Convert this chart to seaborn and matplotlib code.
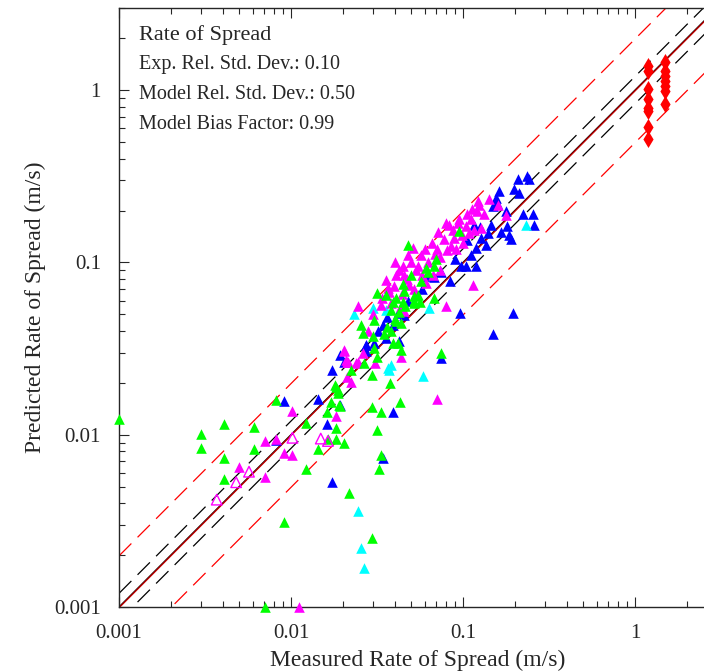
import numpy as np
import pandas as pd
import seaborn as sns
import matplotlib
matplotlib.use('Agg')
import matplotlib.pyplot as plt
from matplotlib.ticker import LogLocator, NullFormatter

# ---------------------- data (measured, predicted) ---------------------- #
green_x = [0.0010, 0.0030, 0.0030, 0.0041, 0.0041, 0.0041, 0.0061, 0.0061, 0.0082, 0.0122,
           0.0183, 0.0183, 0.0203, 0.0164, 0.0143, 0.0122, 0.0091, 0.0071, 0.0217, 0.0183,
           0.0188, 0.0171, 0.0190, 0.0163, 0.0193, 0.0180, 0.0188, 0.0296, 0.0223, 0.0266,
           0.0316, 0.0295, 0.0376, 0.0295, 0.0333, 0.0428, 0.0316, 0.0333, 0.0325, 0.0743,
           0.0390, 0.0420, 0.0477, 0.0950, 0.0316, 0.0357, 0.0407, 0.0456, 0.0381, 0.0426,
           0.0407, 0.0437, 0.0255, 0.0305, 0.0261, 0.0299, 0.0348, 0.0381, 0.0682, 0.0520,
           0.0520, 0.0609, 0.0682, 0.0519, 0.0305, 0.0437, 0.0390, 0.0450, 0.0560,
           0.0450, 0.0500, 0.0570, 0.0630, 0.0550, 0.0400, 0.0360, 0.0460, 0.0700]
green_y = [0.0124, 0.0101, 0.0084, 0.0116, 0.0073, 0.0055, 0.0111, 0.0083, 0.0160, 0.0117,
           0.0110, 0.0095, 0.0090, 0.0094, 0.0083, 0.0063, 0.0031, 0.0010, 0.0046, 0.0190,
           0.0175, 0.0154, 0.0148, 0.0136, 0.0146, 0.0195, 0.0183, 0.0025, 0.0239, 0.0262,
           0.0284, 0.0223, 0.0200, 0.0144, 0.0136, 0.0155, 0.0107, 0.0076, 0.0063, 0.0300,
           0.0340, 0.0340, 0.1256, 0.1520, 0.0667, 0.0650, 0.0624, 0.0682, 0.0533, 0.0513,
           0.0455, 0.0447, 0.0436, 0.0466, 0.0390, 0.0373, 0.0382, 0.0399, 0.0620, 0.0636,
           0.0595, 0.0930, 0.0950, 0.0585, 0.0319, 0.0312, 0.0590, 0.0590, 0.0590,
           0.0750, 0.0850, 0.0780, 0.0880, 0.0650, 0.0470, 0.0420, 0.0560, 0.1050]

blue_x = [0.0082, 0.0091, 0.0143, 0.0163, 0.0173, 0.0173, 0.0193, 0.0203, 0.0273, 0.0390,
          0.0343, 0.0743, 0.0193, 0.236, 0.208, 0.243, 0.199, 0.213, 0.163, 0.156,
          0.158, 0.149, 0.178, 0.222, 0.257, 0.260, 0.180, 0.186, 0.190, 0.116,
          0.127, 0.140, 0.0962, 0.196, 0.150, 0.0842, 0.104, 0.119, 0.0623, 0.0682,
          0.0341, 0.0390, 0.0417, 0.0426, 0.0357, 0.0273, 0.0305, 0.0273, 0.0454, 0.146,
          0.166, 0.136, 0.111, 0.097, 0.119,
          0.048, 0.058, 0.075, 0.090, 0.036, 0.032, 0.105, 0.125]
blue_y = [0.0093, 0.0156, 0.0162, 0.0116, 0.0053, 0.0239, 0.0292, 0.0265, 0.0330, 0.0136,
          0.0073, 0.0280, 0.0149, 0.318, 0.304, 0.304, 0.266, 0.254, 0.260, 0.237,
          0.222, 0.212, 0.200, 0.190, 0.190, 0.166, 0.162, 0.145, 0.136, 0.166,
          0.139, 0.149, 0.0510, 0.0510, 0.0382, 0.0780, 0.0950, 0.0950, 0.0832, 0.0818,
          0.0436, 0.0436, 0.0510, 0.0349, 0.0364, 0.0333, 0.0341, 0.0305, 0.0498, 0.166,
          0.151, 0.127, 0.111, 0.095, 0.122,
          0.060, 0.070, 0.088, 0.105, 0.048, 0.040, 0.135, 0.160]

magenta_x = [0.0101, 0.0071, 0.0082, 0.0091, 0.0101, 0.0183, 0.0050, 0.0071, 0.0111, 0.0203,
             0.0209, 0.0215, 0.0245, 0.0211, 0.0223, 0.0262, 0.0308, 0.0437, 0.0706, 0.0510,
             0.0794, 0.1217, 0.1150, 0.0794, 0.0446, 0.0456, 0.0398, 0.0365, 0.0333, 0.0246,
             0.0437, 0.0456, 0.0204, 0.124, 0.1213, 0.133, 0.111, 0.104, 0.116, 0.127,
             0.109, 0.099, 0.078, 0.089, 0.085, 0.071, 0.074, 0.057, 0.063, 0.053,
             0.050, 0.0424, 0.067, 0.074, 0.061, 0.0485, 0.0371, 0.0357, 0.0408, 0.091,
             0.100, 0.083, 0.095, 0.159, 0.178, 0.142, 0.0213, 0.0239,
             0.040, 0.048, 0.055, 0.060, 0.066, 0.072, 0.088, 0.093, 0.105, 0.113,
             0.047, 0.052, 0.058, 0.044, 0.069, 0.081, 0.030, 0.034, 0.028, 0.038]
magenta_y = [0.0138, 0.0092, 0.0095, 0.0078, 0.0076, 0.0129, 0.0065, 0.0057, 0.0010, 0.0308,
             0.0273, 0.0265, 0.0265, 0.0217, 0.0203, 0.0300, 0.0262, 0.0284, 0.0162, 0.121,
             0.170, 0.227, 0.0735, 0.0562, 0.0952, 0.0851, 0.0728, 0.0713, 0.0570, 0.0560,
             0.0560, 0.0523, 0.0312, 0.215, 0.199, 0.190, 0.178, 0.162, 0.155, 0.159,
             0.149, 0.145, 0.136, 0.139, 0.124, 0.119, 0.108, 0.111, 0.101, 0.091,
             0.101, 0.091, 0.085, 0.091, 0.0765, 0.0743, 0.0677, 0.0796, 0.085, 0.119,
             0.130, 0.166, 0.178, 0.216, 0.188, 0.233, 0.0265, 0.0262,
             0.100, 0.110, 0.095, 0.120, 0.130, 0.150, 0.155, 0.170, 0.190, 0.205,
             0.080, 0.070, 0.085, 0.066, 0.112, 0.118, 0.050, 0.062, 0.040, 0.058]

open_x = [0.0102, 0.0149, 0.0164, 0.0057, 0.0048, 0.0037]
open_y = [0.0096, 0.0095, 0.0092, 0.0061, 0.0053, 0.0042]

cyan_x = [0.0244, 0.0255, 0.0266, 0.0365, 0.0380, 0.0372, 0.0584, 0.0638, 0.0357, 0.0299,
          0.0233, 0.232]
cyan_y = [0.0036, 0.0022, 0.00168, 0.0245, 0.0255, 0.0238, 0.0220, 0.0544, 0.0533, 0.0544,
          0.0500, 0.166]

red_x = [1.185] * 8 + [1.49] * 7
red_y = [1.38, 1.29, 1.01, 0.887, 0.79, 0.76, 0.61, 0.52,
         1.45, 1.29, 1.21, 1.13, 1.06, 0.99, 0.83]

title = 'Rate of Spread'
sigma_e = 0.10
sigma_m = 0.50
bias = 0.99

# ---------------------- plot ---------------------- #
sns.set_style('ticks')
plt.rcParams['font.family'] = ['Liberation Serif', 'DejaVu Serif']

fig = plt.figure(figsize=(7.04, 6.71), dpi=100)
ax = fig.add_axes([119 / 704, 64 / 671, 598 / 704, 599 / 671])

lims = [0.001, 3.0]
ref = np.array(lims)
ax.plot(ref, ref * (1 + 2 * sigma_e), color='black', lw=0.9, dashes=(14, 7))
ax.plot(ref, ref / (1 + 2 * sigma_e), color='black', lw=0.9, dashes=(14, 7))
ax.plot(ref, bias * ref * (1 + 2 * sigma_m), color='red', lw=0.9, dashes=(14, 7))
ax.plot(ref, bias * ref / (1 + 2 * sigma_m), color='red', lw=0.9, dashes=(14, 7))
ax.plot(ref, ref, color='black', lw=1.0)
ax.plot(ref, bias * ref, color='#c00000', lw=1.0)

groups = [
    (blue_x, blue_y, '#0000ff'),
    (cyan_x, cyan_y, '#00ffff'),
    (magenta_x, magenta_y, '#ff00ff'),
    (green_x, green_y, '#00ff00'),
]
for gx, gy, col in groups:
    sns.scatterplot(x=gx, y=gy, ax=ax, marker='^', color=col, s=58,
                    linewidth=0, zorder=3, clip_on=False)

sns.scatterplot(x=open_x, y=open_y, ax=ax, marker='^', s=58, facecolors='none',
                edgecolor='#ff00ff', linewidth=1.0, zorder=3)
sns.scatterplot(x=red_x, y=red_y, ax=ax, marker='d', color='red', s=75,
                linewidth=0, zorder=3)

ax.set_xscale('log')
ax.set_yscale('log')
ax.set_xlim(lims)
ax.set_ylim(lims)

ticks = [0.001, 0.01, 0.1, 1]
labels = ['0.001', '0.01', '0.1', '1']
ax.set_xticks(ticks)
ax.set_xticklabels(labels)
ax.set_yticks(ticks)
ax.set_yticklabels(labels)
ax.xaxis.set_minor_locator(LogLocator(base=10, subs=np.arange(2, 10)))
ax.yaxis.set_minor_locator(LogLocator(base=10, subs=np.arange(2, 10)))
ax.xaxis.set_minor_formatter(NullFormatter())
ax.yaxis.set_minor_formatter(NullFormatter())
ax.tick_params(which='both', direction='in', top=True, right=True, labelsize=15, width=0.8)
ax.tick_params(which='major', length=7)
ax.tick_params(axis='x', which='major', pad=12)
ax.tick_params(axis='y', which='major', pad=13)
ax.tick_params(which='minor', length=4)
for sp in ax.spines.values():
    sp.set_linewidth(1.0)

ax.set_xlabel('Measured Rate of Spread (m/s)', fontsize=17, labelpad=5)
ax.set_ylabel('Predicted Rate of Spread (m/s)', fontsize=17, labelpad=6)

ax.text(0.033, 0.947, title, transform=ax.transAxes, fontsize=16)
ax.text(0.033, 0.898, 'Exp. Rel. Std. Dev.: %.2f' % sigma_e, transform=ax.transAxes, fontsize=14.5)
ax.text(0.033, 0.848, 'Model Rel. Std. Dev.: %.2f' % sigma_m, transform=ax.transAxes, fontsize=14.5)
ax.text(0.033, 0.798, 'Model Bias Factor: %.2f' % bias, transform=ax.transAxes, fontsize=14.5)

fig.savefig('out.png', dpi=100)
